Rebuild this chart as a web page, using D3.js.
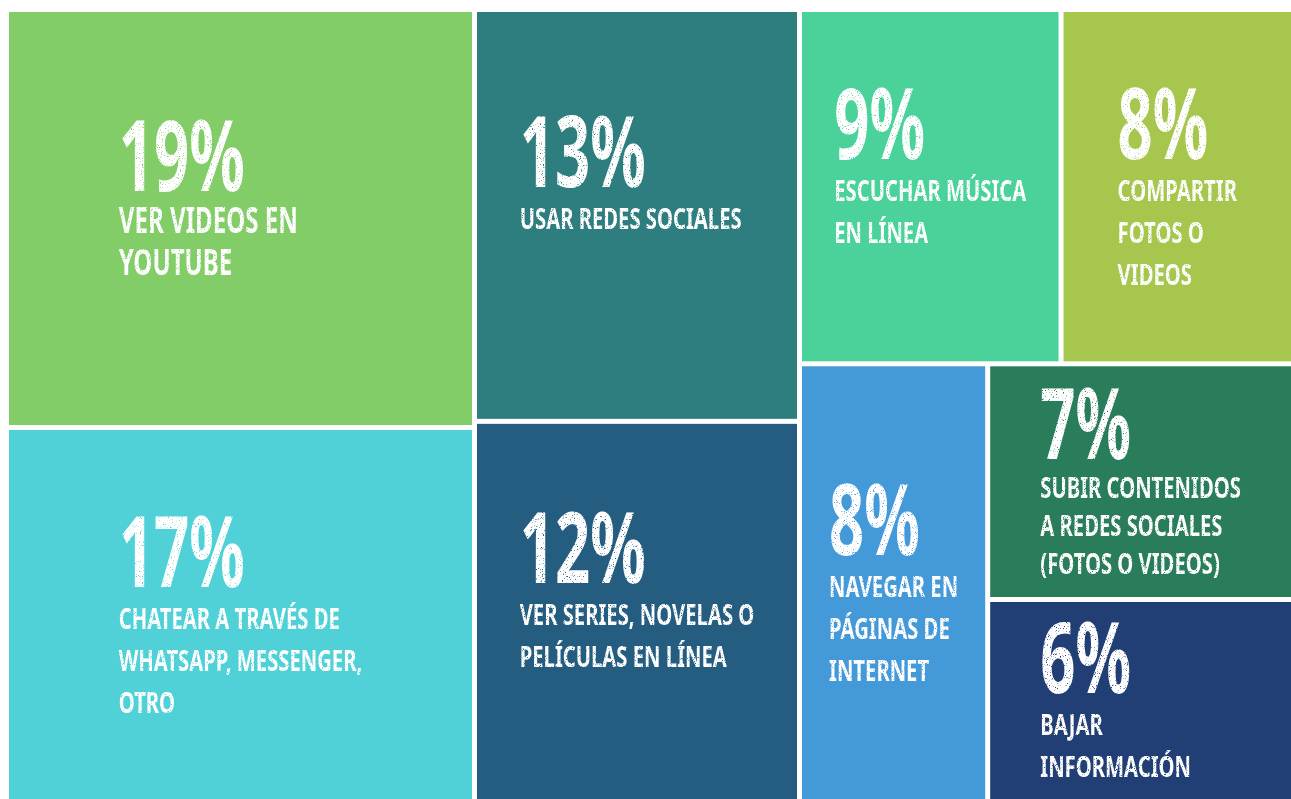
<!DOCTYPE html>
<html>
<head>
<meta charset="utf-8">
<script src="https://cdn.jsdelivr.net/npm/d3@7"></script>
<style>
  body { margin: 0; background: #fff; }
  svg text {
    font-family: "Noto Sans", "DejaVu Sans Condensed", sans-serif;
    font-stretch: extra-condensed;
    font-weight: bold;
    fill: #fff;
  }
</style>
</head>
<body>
<svg id="chart"></svg>
<script>
const activities = ["youtube", "chatear", "redes", "series", "musica", "compartir", "navegar", "subir", "bajar"];
const percents = [19, 17, 13, 12, 9, 8, 8, 7, 6];
const labels = [
  ["VER VIDEOS EN", "YOUTUBE"],
  ["CHATEAR A TRAVÉS DE", "WHATSAPP, MESSENGER,", "OTRO"],
  ["USAR REDES SOCIALES"],
  ["VER SERIES, NOVELAS O", "PELÍCULAS EN LÍNEA"],
  ["ESCUCHAR MÚSICA", "EN LÍNEA"],
  ["COMPARTIR", "FOTOS O", "VIDEOS"],
  ["NAVEGAR EN", "PÁGINAS DE", "INTERNET"],
  ["SUBIR CONTENIDOS", "A REDES SOCIALES", "(FOTOS O VIDEOS)"],
  ["BAJAR", "INFORMACIÓN"]
];
const colors = ["#83cd68", "#50d1d7", "#2e7d7f", "#255d81", "#4ad29a", "#a6c64e", "#4499d9", "#2a7d5b", "#223f75"];

// how the blocks are grouped: columns, then rows inside the last column
const blockTree = [
  ["youtube", "chatear"],
  ["redes", "series"],
  [["musica", "compartir"], ["navegar", ["subir", "bajar"]]]
];

const width = 1291, height = 799;
const margin = { top: 12, right: 0, bottom: 0, left: 9 };

const PCT_CAP = 70;        // cap height of the big numbers
const LABEL_CAP = 21;
const CAP_RATIO = 0.714;   // cap height / font size

const color = d3.scaleOrdinal(activities, colors);
const valueOf = d3.scaleOrdinal(activities, percents);

const svg = d3.select("#chart").attr("width", width).attr("height", height);

// light worn-print texture on the white type
const defs = svg.append("defs");
const rough = defs.append("filter").attr("id", "rough")
  .attr("x", 0).attr("y", 0).attr("width", 1).attr("height", 1);
rough.append("feTurbulence")
  .attr("type", "fractalNoise").attr("baseFrequency", 1.1)
  .attr("numOctaves", 2).attr("seed", 4).attr("result", "noise");
rough.append("feColorMatrix").attr("in", "noise").attr("type", "matrix")
  .attr("values", "0 0 0 0 0  0 0 0 0 0  0 0 0 0 0  0 0 0 -6 4.7")
  .attr("result", "mask");
rough.append("feComposite").attr("in", "SourceGraphic").attr("in2", "mask").attr("operator", "in");

// squeeze the type to the narrow poster face of the original
function textWidth(str, size) {
  const t = svg.append("text").attr("font-size", size).text(str);
  const w = t.node().getComputedTextLength();
  t.remove();
  return w;
}
const PCT_SX = 126 / textWidth("13%", PCT_CAP / CAP_RATIO);
const LABEL_SX = 222 / textWidth("USAR REDES SOCIALES", LABEL_CAP / CAP_RATIO);

const root = d3.hierarchy(blockTree, d => Array.isArray(d) ? d : null)
  .sum(d => Array.isArray(d) ? 0 : valueOf(d));

d3.treemap()
  .tile(d3.treemapSliceDice)
  .size([width - margin.left - margin.right, height - margin.top - margin.bottom])
  .paddingInner(5)(root);

const plot = svg.append("g").attr("transform", `translate(${margin.left},${margin.top})`);

const cell = plot.selectAll("g.cell")
  .data(root.leaves())
  .join("g")
  .attr("class", "cell")
  .attr("transform", d => `translate(${d.x0},${d.y0})`);

cell.append("rect")
  .attr("width", d => d.x1 - d.x0)
  .attr("height", d => d.y1 - d.y0)
  .attr("fill", d => color(d.data));

const maxPct = d3.max(percents);

cell.each(function (d) {
  const g = d3.select(this);
  const i = activities.indexOf(d.data);
  const lines = labels[i];
  const h = d.y1 - d.y0;
  const labelCap = percents[i] === maxPct ? 25 : LABEL_CAP;

  let pitch = 42;
  let reserve = Math.max(lines.length, 3);
  if (PCT_CAP + reserve * pitch > 0.8 * h) reserve = lines.length;
  if (PCT_CAP + reserve * pitch > 0.8 * h) pitch = (0.8 * h - PCT_CAP) / lines.length;
  const top = (h - (PCT_CAP + reserve * pitch)) / 2;

  const block = g.append("g").attr("class", "block");
  const ink = block.append("g").attr("filter", "url(#rough)");

  const pct = ink.append("text")
    .attr("font-size", PCT_CAP / CAP_RATIO)
    .attr("transform", `translate(0,${top + PCT_CAP}) scale(${PCT_SX},1)`)
    .text(percents[i] + "%");

  let w = pct.node().getComputedTextLength() * PCT_SX;

  lines.forEach((line, k) => {
    const t = ink.append("text")
      .attr("font-size", labelCap / CAP_RATIO)
      .attr("transform", `translate(0,${top + PCT_CAP + (k + 1) * pitch}) scale(${LABEL_SX},1)`)
      .text(line);
    w = Math.max(w, t.node().getComputedTextLength() * LABEL_SX);
  });
  d.blockWidth = w;
});

// blocks stacked in one column share their left edge
cell.each(function (d) {
  const stack = d.parent.depth & 1 ? d.parent.children : [d];
  const widest = d3.max(stack, s => s.blockWidth);
  const x = (d.x1 - d.x0 - widest) / 2;
  d3.select(this).select("g.block").attr("transform", `translate(${x},0)`);
});
</script>
</body>
</html>
